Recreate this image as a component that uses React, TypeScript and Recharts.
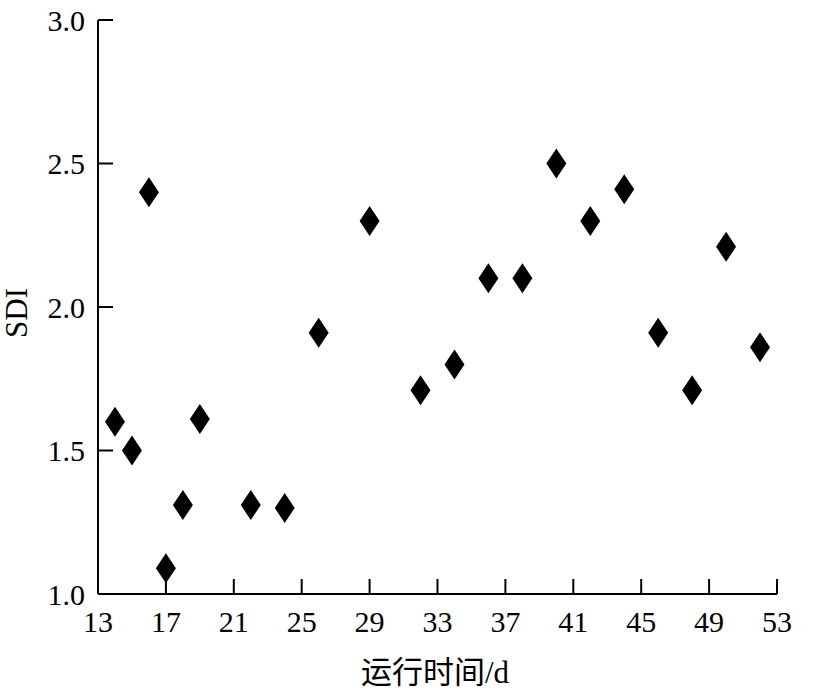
import { ScatterChart, Scatter, XAxis, YAxis, Label } from 'recharts';

// running time (d) and SDI
const days = [14, 15, 16, 17, 18, 19, 22, 24, 26, 29, 32, 34, 36, 38, 40, 42, 44, 46, 48, 50, 52];
const sdi = [1.6, 1.5, 2.4, 1.09, 1.31, 1.61, 1.31, 1.3, 1.91, 2.3, 1.71, 1.8, 2.1, 2.1, 2.5, 2.3, 2.41, 1.91, 1.71, 2.21, 1.86];

const xTicks = [13, 17, 21, 25, 29, 33, 37, 41, 45, 49, 53];
const yTicks = [1.0, 1.5, 2.0, 2.5, 3.0];

const FONT = "'Liberation Serif', 'Noto Sans CJK SC', serif";
const INK = '#000';

const data = days.map((d, i) => ({ x: d, y: sdi[i] }));

function Diamond(props: any) {
    const { cx, cy } = props;
    if (cx == null || cy == null) return null;
    const w = 10;
    const h = 15;
    return <polygon points={`${cx},${cy - h} ${cx + w},${cy} ${cx},${cy + h} ${cx - w},${cy}`} fill={INK} />;
}

export default function App() {
    return (
        <div style={{ position: 'absolute', left: 0, top: 0, background: '#fff' }}>
            <ScatterChart width={813} height={698} margin={{ top: 20, right: 36, bottom: 0, left: 0 }}>
                <XAxis
                    type="number"
                    dataKey="x"
                    domain={[13, 53]}
                    ticks={xTicks}
                    interval={0}
                    height={104}
                    tickSize={-15}
                    tickMargin={32}
                    stroke={INK}
                    strokeWidth={2}
                    tick={{ fontSize: 30, fill: INK, fontFamily: FONT }}
                >
                    <Label
                        content={() => (
                            <text x={435} y={672} textAnchor="middle" dominantBaseline="central" fontSize={31} fontFamily={FONT} fill={INK}>
                                运行时间/d
                            </text>
                        )}
                    />
                </XAxis>
                <YAxis
                    type="number"
                    dataKey="y"
                    domain={[1, 3]}
                    ticks={yTicks}
                    interval={0}
                    width={98}
                    tickSize={-15}
                    tickMargin={28}
                    stroke={INK}
                    strokeWidth={2}
                    tickFormatter={(v: number) => v.toFixed(1)}
                    tick={{ fontSize: 30, fill: INK, fontFamily: FONT }}
                >
                    <Label
                        content={() => (
                            <text x={16} y={313} transform="rotate(-90, 16, 313)" textAnchor="middle" dominantBaseline="central" fontSize={31} fontFamily={FONT} fill={INK}>
                                SDI
                            </text>
                        )}
                    />
                </YAxis>
                <Scatter data={data} shape={Diamond} isAnimationActive={false} />
            </ScatterChart>
        </div>
    );
}
